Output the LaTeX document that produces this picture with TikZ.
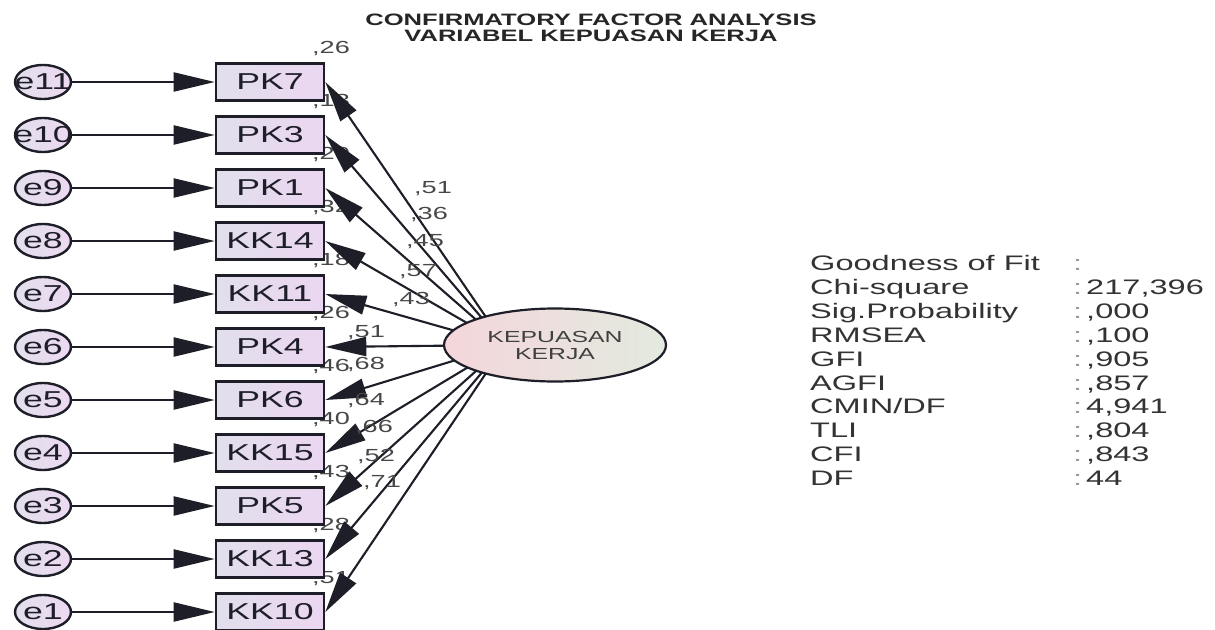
\documentclass[tikz,border=0pt]{standalone}
\usepackage{fontspec}
\setmainfont{Liberation Sans}
\usetikzlibrary{arrows.meta,shapes.geometric}
\newcommand{\hx}[1]{\scalebox{1.55}[1]{#1}}
\definecolor{boxL}{HTML}{E2DFEC}
\definecolor{boxR}{HTML}{EBD6F1}
\definecolor{errL}{HTML}{E3DFEC}
\definecolor{errR}{HTML}{ECD9F1}
\definecolor{latL}{HTML}{F4D6DB}
\definecolor{latR}{HTML}{E3EADF}
\definecolor{ink}{HTML}{1E1E28}
\pgfdeclarelayer{bg}
\pgfdeclarelayer{bgwhite}
\pgfsetlayers{bgwhite,bg,main}
\tikzset{
  obs/.style={draw=ink, line width=2.6pt, minimum width=108pt, minimum height=37pt, inner sep=0pt,
    left color=boxL, right color=boxR, text=ink, font=\fontsize{23}{23}\selectfont},
  err/.style={ellipse, draw=ink, line width=2.4pt, minimum width=56pt, minimum height=34pt, inner sep=0pt,
    left color=errL, right color=errR, text=ink, font=\fontsize{23}{23}\selectfont},
  lat/.style={ellipse, draw=ink, line width=2.2pt, minimum width=222pt, minimum height=73pt, inner sep=0pt,
    left color=latL, right color=latR, text=black!75, align=center, font=\fontsize{16}{17}\selectfont},
  pth/.style={line width=2.1pt, draw=ink, -{Triangle[length=41pt,width=19pt]}},
  num/.style={inner sep=0pt, text=black!72, text height=12.5pt, text depth=0pt, font=\fontsize{17.5}{17.5}\selectfont},
  fit/.style={inner sep=0pt, anchor=west, text=black!80, text height=15pt, text depth=0pt, font=\fontsize{21}{21}\selectfont},
  colon/.style={inner sep=0pt, anchor=west, text=black!40, text height=15pt, text depth=0pt, font=\fontsize{21}{21}\selectfont},
  ttl/.style={inner sep=0pt, text=black!85, text height=12pt, text depth=0pt, font=\fontsize{16.5}{16.5}\selectfont\bfseries}
}
\begin{document}
\begin{tikzpicture}[x=1pt,y=-1pt]
\begin{pgfonlayer}{bgwhite}
\fill[white] (0,0) rectangle (1215,629);
\end{pgfonlayer}
\useasboundingbox (0,0) rectangle (1215,629);
% title
\node[ttl] (t1) at (591,19) {\hx{CONFIRMATORY FACTOR ANALYSIS}};
\node[ttl] (t2) at (591,35) {\hx{VARIABEL KEPUASAN KERJA}};
% rows
\foreach \k/\b/\e/\r in {0/PK7/e11/{,26},1/PK3/e10/{,13},2/PK1/e9/{,20},3/KK14/e8/{,32},4/KK11/e7/{,18},
  5/PK4/e6/{,26},6/PK6/e5/{,46},7/KK15/e4/{,40},8/PK5/e3/{,43},9/KK13/e2/{,28},10/KK10/e1/{,51}}{
  \pgfmathsetmacro\yy{82+53*\k}
  \node[obs] (b\k) at (270,\yy) {\hx{\b}};
  \node[err] (e\k) at (43,\yy) {\makebox[0pt]{\hx{\e}}};
  \draw[pth] (e\k) -- (b\k);
  \begin{pgfonlayer}{bg}
  \node[num] (r\k) at (331,\yy-34.5) {\hx{\r}};
  \end{pgfonlayer}
}
% latent
\coordinate (hub) at (505,345);
\foreach \k in {0,...,10}{
  \draw[pth] (hub) -- (b\k.east);
}
\node[lat] (lat) at (555,345) {\hx{KEPUASAN}\\\hx{KERJA}};
% loadings
\foreach \k/\v/\x/\y in {0/{,51}/433/187,1/{,36}/429/213,2/{,45}/425/240,3/{,57}/418/270,4/{,43}/411/298,
  5/{,51}/366/331,6/{,68}/366/363,7/{,64}/366/399,8/{,66}/374/426,9/{,52}/376/455,10/{,71}/382/481}{
  \node[num] (l\k) at (\x,\y) {\hx{\v}};
}
% fit block
\foreach \i/\n/\v in {0/{Goodness of Fit}/{},1/{Chi-square}/{217,396},2/{Sig.Probability}/{,000},3/{RMSEA}/{,100},
  4/{GFI}/{,905},5/{AGFI}/{,857},6/{CMIN/DF}/{4,941},7/{TLI}/{,804},8/{CFI}/{,843},9/{DF}/{44}}{
  \pgfmathsetmacro\yy{263+23.9*\i}
  \node[fit] (f\i) at (810,\yy) {\hx{\n}};
  \node[colon] (c\i) at (1073,\yy) {\hx{:}};
  \node[fit] (v\i) at (1086,\yy) {\hx{\v}};
}
\end{tikzpicture}
\end{document}
